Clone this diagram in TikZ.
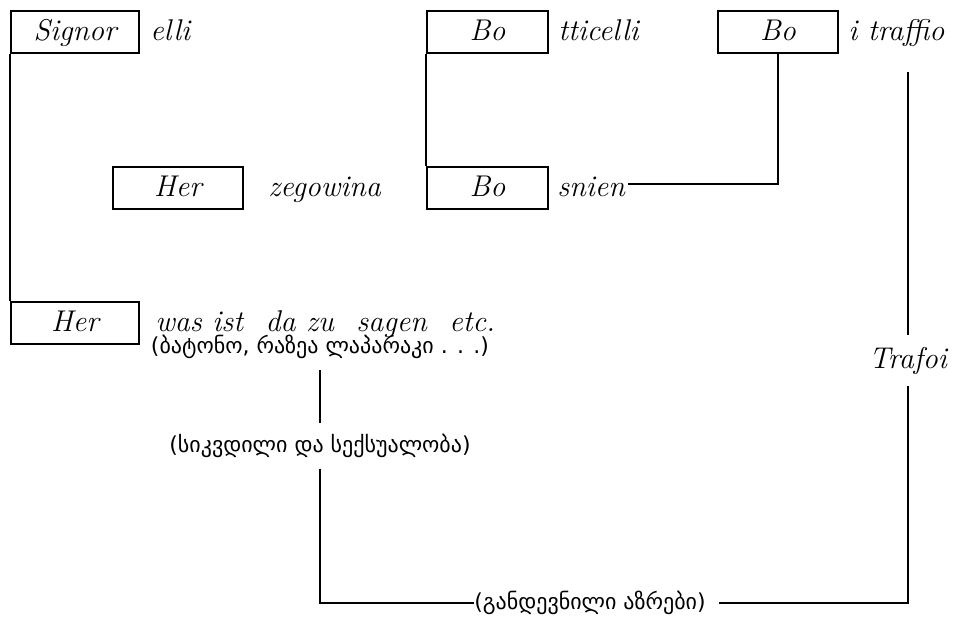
\documentclass[tikz,border=0pt]{standalone}
\usepackage{fontspec}
\newfontfamily\geofont{DejaVu Sans}
\begin{document}
\begin{tikzpicture}[x=0.75pt,y=-0.75pt,
  box/.style={draw, line width=1.6pt, inner sep=0pt, minimum height=31.5pt,
    text height=14pt, text depth=1pt, font=\itshape\fontsize{22.5}{26}\selectfont},
  lbl/.style={inner sep=0pt, anchor=base west, font=\itshape\fontsize{22.5}{26}\selectfont},
  geo/.style={inner xsep=0pt, inner ysep=8pt, font=\geofont\fontsize{16.5}{20}\selectfont},
  conn/.style={line width=1.6pt}]
\useasboundingbox (0,0) rectangle (957,618);
\node[box, minimum width=96pt] (signor) at (75,32) {Signor};
\node[lbl] (elli) at (150,40) {elli};
\node[box, minimum width=90.5pt] (bo1) at (487.5,32) {Bo};
\node[lbl] (tticelli) at (558,40) {tticelli};
\node[box, minimum width=90pt] (bo2) at (778,32) {Bo};
\node[lbl] (traffio) at (848,40) {i traffio};
\node[box, minimum width=97.5pt] (her1) at (178,188) {Her};
\node[lbl] (zego) at (268,196) {zegowina};
\node[box, minimum width=90.5pt] (bo3) at (487.5,188) {Bo};
\node[lbl] (snien) at (557,196) {snien};
\node[box, minimum width=96pt] (her2) at (75,323) {Her};
\node[lbl] (was) at (155,331) {was ist\hspace{0.75em}da zu\hspace{0.75em}sagen\hspace{0.75em}etc.};
\node[lbl, anchor=base, inner ysep=9pt] (trafoi) at (908,368) {Trafoi};
\node[geo] (g1) at (320,347) {(ბატონო, რაზეა ლაპარაკი . . .)};
\node[geo] (g2) at (320,446) {(სიკვდილი და სექსუალობა)};
\node[geo, inner ysep=0pt] (g3) at (590,603) {(განდევნილი აზრები)};
\coordinate (tt) at (908,72);
\draw[conn] (signor.south west) -- (her2.north west);
\draw[conn] (bo1.south west) -- (bo3.north west);
\draw[conn] (bo2.south) |- ([xshift=2pt,yshift=1.5pt]snien.east);
\draw[conn] (tt) -- (trafoi.north);
\draw[conn] (g1.south) -- (g2.north);
\draw[conn] (g2.south) |- (g3.west);
\draw[conn] ([xshift=10pt]g3.east) -| (trafoi.south);
\end{tikzpicture}
\end{document}
